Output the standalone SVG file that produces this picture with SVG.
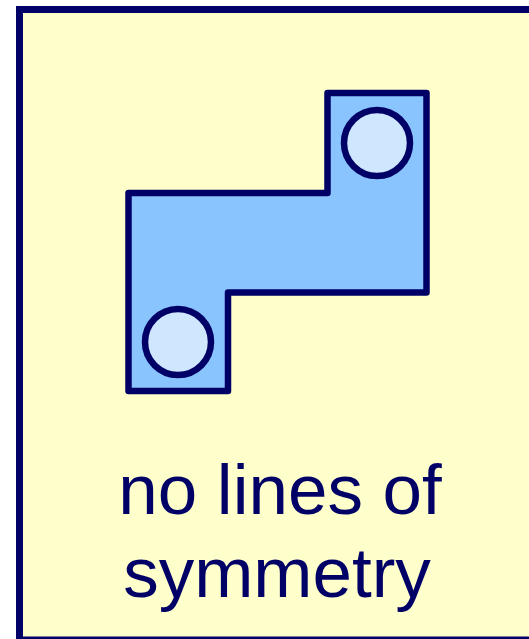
<svg xmlns="http://www.w3.org/2000/svg" width="529" height="639" viewBox="0 0 529 639">
<style>
.frame{fill:#FFFFCC;stroke:#000066;stroke-width:7}
.shape{fill:#8AC4FF;stroke:#000066;stroke-width:6.5;stroke-linejoin:round}
.hole{fill:#CFE6FF;stroke:#000066;stroke-width:6.5}
.lbl{font-family:"Liberation Sans",Arial,sans-serif;font-size:71px;fill:#000066;text-anchor:middle}
</style>
<rect width="529" height="639" fill="#FFFFFF"/>
<g id="frame">
<rect class="frame" x="19.5" y="9.5" width="530" height="630.5"/>
</g>
<g id="shape">
<path class="shape" d="M128.5,193 H327.5 V93 H426.5 V292.5 H228 V391 H128.5 Z"/>
<circle class="hole" cx="377" cy="143" r="33"/>
<circle class="hole" cx="178" cy="342" r="33"/>
</g>
<g id="label">
<text class="lbl" x="280" y="514">no lines of</text>
<text class="lbl" x="277" y="597">symmetry</text>
</g>
</svg>
